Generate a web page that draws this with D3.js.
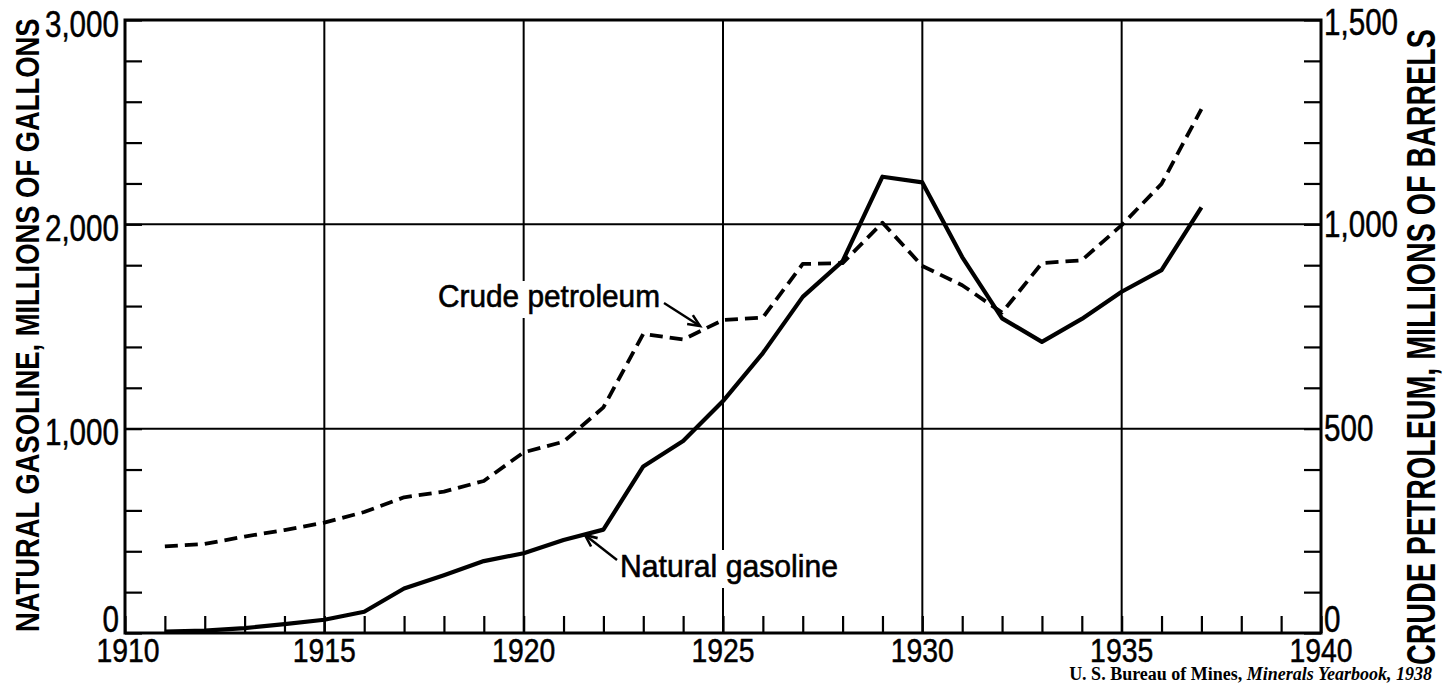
<!DOCTYPE html>
<html>
<head>
<meta charset="utf-8">
<script src="https://cdn.jsdelivr.net/npm/d3@7"></script>
<style>
  html, body { margin: 0; padding: 0; background: #fff; }
  svg { display: block; }
  .sans { font-family: "Liberation Sans", Arial, sans-serif; }
</style>
</head>
<body>
<svg id="chart" width="1445" height="688"></svg>
<script>
// Production by year, 1911–1937
const years = [1911,1912,1913,1914,1915,1916,1917,1918,1919,1920,1921,1922,1923,1924,
               1925,1926,1927,1928,1929,1930,1931,1932,1933,1934,1935,1936,1937];
// Natural gasoline, millions of gallons (left axis)
const naturalGasoline = [7,12,24,43,65,104,218,283,352,390,455,506,815,940,
                         1135,1370,1645,1820,2233,2205,1840,1540,1425,1537,1670,1776,2083];
// Crude petroleum, millions of barrels (right axis)
const crudePetroleum = [212,218,236,252,270,296,332,346,372,442,468,552,732,718,
                        766,772,903,905,1004,898,851,784,905,912,998,1099,1282];

const xTickYears = d3.range(1910, 1941);
const xLabelYears = [1910,1915,1920,1925,1930,1935,1940];
const leftTicks = d3.range(0, 3001, 200);
const leftLabels = [0, 1000, 2000, 3000];
const rightTicks = d3.range(0, 1501, 100);
const rightLabels = [0, 500, 1000, 1500];

const leftTitle = "NATURAL GASOLINE, MILLIONS OF GALLONS";
const rightTitle = "CRUDE PETROLEUM, MILLIONS OF BARRELS";
const sourceText = ["U. S. Bureau of Mines, ", "Minerals Yearbook, 1938"];

const svg = d3.select("#chart");
const x = d3.scaleLinear().domain([1910, 1940]).range([125, 1321]);
const yL = d3.scaleLinear().domain([0, 3000]).range([633, 20]);
const yR = d3.scaleLinear().domain([0, 1500]).range([633, 20]);
const fmt = d3.format(",");

// Grid: every five years and every 1,000 gallons
const grid = svg.append("g").attr("stroke", "#000").attr("stroke-width", 2);
grid.selectAll("line.v").data(xLabelYears.slice(1, -1)).join("line")
  .attr("x1", d => x(d)).attr("x2", d => x(d))
  .attr("y1", yL(3000)).attr("y2", yL(0));
grid.selectAll("line.h").data([1000, 2000]).join("line")
  .attr("x1", x(1910)).attr("x2", x(1940))
  .attr("y1", d => yL(d)).attr("y2", d => yL(d));

// Inward ticks
const tickLen = 17;
const left = d3.axisRight(yL).tickValues(leftTicks).tickSize(tickLen).tickFormat("");
const right = d3.axisLeft(yR).tickValues(rightTicks).tickSize(tickLen).tickFormat("");
const bottom = d3.axisTop(x).tickValues(xTickYears).tickSize(tickLen).tickFormat("");
function styleAxis(g) {
  g.select(".domain").remove();
  g.selectAll(".tick line").attr("stroke", "#000").attr("stroke-width", 2.2);
}
svg.append("g").attr("transform", `translate(${x(1910)},0)`).call(left).call(styleAxis);
svg.append("g").attr("transform", `translate(${x(1940)},0)`).call(right).call(styleAxis);
svg.append("g").attr("transform", `translate(0,${yL(0)})`).call(bottom).call(styleAxis);

// Frame
svg.append("rect")
  .attr("x", x(1910)).attr("y", yL(3000))
  .attr("width", x(1940) - x(1910)).attr("height", yL(0) - yL(3000))
  .attr("fill", "none").attr("stroke", "#000").attr("stroke-width", 3);

// Tick labels in a narrow grotesque: horizontally condensed sans
const lab = svg.append("g").attr("class", "sans").attr("fill", "#000")
  .attr("stroke", "#000").attr("stroke-width", 0.5);
lab.selectAll("text.l").data(leftLabels).join("text")
  .attr("transform", d => `translate(${x(1910) - 6},${yL(d) + (d === 0 ? -14 : 4)}) scale(0.8,1)`)
  .attr("text-anchor", "end").attr("dominant-baseline", "central")
  .attr("font-size", 37).text(fmt);
lab.selectAll("text.r").data(rightLabels).join("text")
  .attr("transform", d => `translate(${x(1940) + 3},${yR(d) + (d === 0 ? -14 : (d === 1500 ? 2 : 0))}) scale(0.8,1)`)
  .attr("text-anchor", "start").attr("dominant-baseline", "central")
  .attr("font-size", 37).text(fmt);
lab.selectAll("text.x").data(xLabelYears).join("text")
  .attr("transform", d => `translate(${x(d) + (d === 1910 ? 3 : 0)},662) scale(0.86,1)`)
  .attr("text-anchor", "middle")
  .attr("font-size", 33).text(d => d);

// Axis titles, condensed to span the plot height
function axisTitle(text, bx, by, size, span) {
  const t = svg.append("text").attr("class", "sans")
    .attr("font-size", size).attr("font-weight", "bold").text(text);
  const sx = span / t.node().getComputedTextLength();
  t.attr("transform", `translate(${bx},${by}) rotate(-90) scale(${sx},1)`);
}
axisTitle(leftTitle, 39, 632, 34, 614);
axisTitle(rightTitle, 1435, 665, 40, 636);

// Series
const lineNG = d3.line().x((d, i) => x(years[i])).y(d => yL(d));
const lineCP = d3.line().x((d, i) => x(years[i])).y(d => yR(d));
svg.append("path").datum(crudePetroleum).attr("d", lineCP)
  .attr("fill", "none").attr("stroke", "#000").attr("stroke-width", 3.8)
  .attr("stroke-dasharray", "13,7").attr("stroke-linejoin", "round");
svg.append("path").datum(naturalGasoline).attr("d", lineNG)
  .attr("fill", "none").attr("stroke", "#000").attr("stroke-width", 4.2)
  .attr("stroke-linejoin", "round");

// Series labels with leader arrows
function seriesLabel(text, tx, ty, size, width, from, to) {
  const g = svg.append("g").attr("class", "sans");
  const bg = g.append("rect").attr("fill", "#fff");
  const t = g.append("text").attr("x", tx).attr("y", ty)
    .attr("font-size", size).attr("fill", "#000")
    .attr("stroke", "#000").attr("stroke-width", 0.6)
    .attr("textLength", width).attr("lengthAdjust", "spacingAndGlyphs")
    .text(text);
  const b = t.node().getBBox();
  bg.attr("x", b.x - 2).attr("y", b.y + 2).attr("width", b.width + 4).attr("height", b.height + 2);
  g.append("line").attr("x1", from[0]).attr("y1", from[1]).attr("x2", to[0]).attr("y2", to[1])
    .attr("stroke", "#000").attr("stroke-width", 2.4);
  const ang = Math.atan2(to[1] - from[1], to[0] - from[0]);
  const len = 13, spread = 0.42;
  const p1 = [to[0] - len * Math.cos(ang - spread), to[1] - len * Math.sin(ang - spread)];
  const p2 = [to[0] - len * Math.cos(ang + spread), to[1] - len * Math.sin(ang + spread)];
  g.append("path").attr("d", `M${p1}L${to}L${p2}`)
    .attr("fill", "none").attr("stroke", "#000").attr("stroke-width", 2.6)
    .attr("stroke-linejoin", "miter");
}
seriesLabel("Crude petroleum", 438, 307, 31, 222, [664, 303], [700, 326]);
seriesLabel("Natural gasoline", 620, 577, 32, 218, [617, 560], [585, 535]);

// Source note
const src = svg.append("text")
  .attr("x", 1432).attr("y", 680).attr("text-anchor", "end")
  .attr("font-family", "'Liberation Serif', 'DejaVu Serif', serif")
  .attr("font-size", 18).attr("font-weight", "bold").attr("fill", "#000");
src.append("tspan").text(sourceText[0]);
src.append("tspan").attr("font-style", "italic").text(sourceText[1]);
</script>
</body>
</html>
